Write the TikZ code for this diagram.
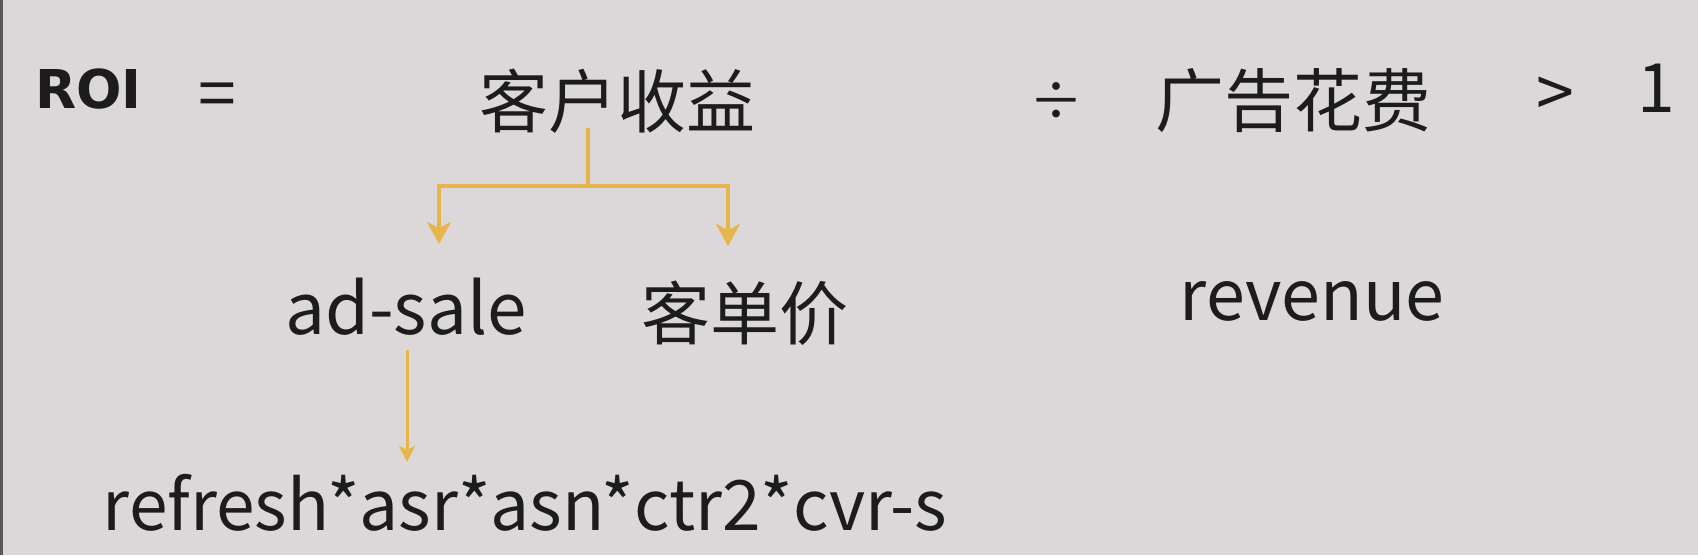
\documentclass[tikz,border=0pt]{standalone}
\usepackage{fontspec}
\setmainfont{Noto Sans CJK SC}
\newfontfamily\roifont{DejaVu Sans}
\usetikzlibrary{arrows.meta}
\definecolor{bg}{HTML}{DCD8D9}
\definecolor{gold}{HTML}{E6B54C}
\definecolor{ink}{HTML}{1C1C1C}
\tikzset{
  txt/.style={inner sep=0pt, text=ink},
  cjkt/.style={txt, font=\fontsize{69}{69}\selectfont},
  lat/.style={txt, font=\fontsize{68}{68}\selectfont},
  conn/.style={draw=gold, line width=4pt, -{Stealth[length=22pt,width=24pt,inset=6pt]}},
  conns/.style={draw=gold, line width=3pt, -{Stealth[length=16pt,width=16pt,inset=4pt]}}
}
\begin{document}
\begin{tikzpicture}[x=1pt,y=-1pt]
\fill[bg] (0,0) rectangle (1698,555);
\useasboundingbox (0,0) rectangle (1698,555);
\draw[line width=3pt, draw=black!65] (1.5,0) -- (1.5,555);
\node[txt, font=\roifont\bfseries\fontsize{53.5}{53.5}\selectfont, anchor=base west] (roi) at (35,108) {ROI};
\node[lat] (eq) at (217,101) {=};
\node[cjkt] (kh) at (617,101) {客户收益};
\node[lat, font=\fontsize{54}{54}\selectfont] (div) at (1056,102) {÷};
\node[cjkt] (gg) at (1293,101) {广告花费};
\node[lat] (gt) at (1555,97) {>};
\node[lat] (one) at (1656,88) {1};
\node[lat, font=\fontsize{71}{71}\selectfont, anchor=base] (adsale) at (406,334) {ad-sale};
\node[cjkt] (kdj) at (745,313) {客单价};
\node[lat, font=\fontsize{70}{70}\selectfont, anchor=base] (rev) at (1312,320) {revenue};
\node[lat, font=\fontsize{69.5}{69.5}\selectfont, anchor=base] (refresh) at (525,530) {refresh*asr*asn*ctr2*cvr-s};
\coordinate (stemtop) at (588,128);
\coordinate (junc) at (588,186);
\coordinate (ltip) at (439,244);
\coordinate (rtip) at (728,246);
\coordinate (btop) at (407,350);
\coordinate (btip) at (407,462);
\draw[conn] (stemtop) -- (junc) -| (ltip);
\draw[conn] (junc) -| (rtip);
\draw[conns] (btop) -- (btip);
\end{tikzpicture}
\end{document}
